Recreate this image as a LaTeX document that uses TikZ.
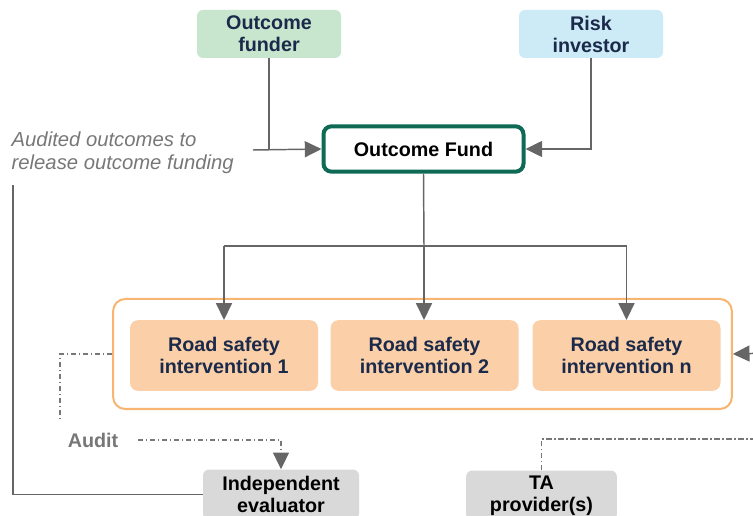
\documentclass[tikz,border=0pt]{standalone}
\usepackage{fontspec}
\setmainfont{Liberation Sans}
\usetikzlibrary{arrows.meta}
\definecolor{navy}{HTML}{1B2A4A}
\definecolor{fgreen}{HTML}{C8E6CE}
\definecolor{fblue}{HTML}{CDEAF7}
\definecolor{dgreen}{HTML}{0E6A55}
\definecolor{peach}{HTML}{FBD0A8}
\definecolor{orangeb}{HTML}{F7B56F}
\definecolor{lgray}{HTML}{D9D9D9}
\definecolor{lineg}{HTML}{666666}
\definecolor{txtg}{HTML}{777777}
\tikzset{
  txt/.style={font=\fontsize{14.8pt}{16.5pt}\selectfont\bfseries, align=center},
  topbox/.style={txt, text=navy, rounded corners=4.5pt, minimum width=108pt, minimum height=36pt, inner sep=0pt},
  rsbox/.style={txt, text=navy, fill=peach, rounded corners=6pt, minimum width=141pt, minimum height=53pt, inner sep=0pt},
  graybox/.style={txt, text=black, fill=lgray, rounded corners=4.5pt, minimum height=37.5pt, inner sep=0pt},
  conn/.style={draw=lineg, line width=1.1pt},
  arr/.style={conn, -{Triangle[length=12.5pt,width=12pt]}},
  dd/.style={draw=txtg, line width=0.8pt, dash pattern=on 4pt off 2pt on 1pt off 2pt},
  ddarr/.style={dd, -{Triangle[length=12.5pt,width=12pt,fill=lineg,color=lineg]}},
}
\begin{document}
\begin{tikzpicture}[x=0.75pt, y=-0.75pt]
\useasboundingbox (0,0) rectangle (753,516);
% top boxes
\node[topbox, fill=fgreen] (funder) at (269,34) {Outcome\\funder};
\node[topbox, fill=fblue] (investor) at (591,34) {Risk\\investor};
\node[txt, text=black, draw=dgreen, line width=3pt, rounded corners=6pt, fill=white,
      minimum width=150pt, minimum height=34pt, inner sep=0pt] (fund) at (423.5,149) {Outcome Fund};
% label
\node[anchor=west, align=left, text=txtg, font=\fontsize{15.2pt}{17pt}\selectfont\itshape] (lbl) at (7,152.5)
  {Audited outcomes to\\release outcome funding};
% container and interventions
\node[draw=orangeb, line width=1.5pt, rounded corners=9pt, fill=white,
      minimum width=464pt, minimum height=82.5pt, inner sep=0pt] (cont) at (422.5,354) {};
\node[rsbox] (r1) at (224,355.5) {Road safety\\intervention 1};
\node[rsbox] (r2) at (424.5,355.5) {Road safety\\intervention 2};
\node[rsbox] (r3) at (626.5,355.5) {Road safety\\intervention n};
% bottom boxes
\node[graybox, minimum width=117pt] (ev) at (281,494.5) {Independent\\evaluator};
\node[graybox, minimum width=113pt] (ta) at (541.5,495.5) {TA\\provider(s)};
\node[txt, text=txtg, inner sep=0pt] (audit) at (93,440) {Audit};
% coordinates
\coordinate (a1) at (13,185);
\coordinate (a2) at (253,150);
\coordinate (j) at (424,246);
\coordinate (rin) at (770,353);
\coordinate (dl) at (60,420);
\coordinate (dr) at (138,440);
\coordinate (tr) at (770,439);
% connectors
\draw[conn] (funder.south) -- (funder.south|-a2);
\draw[arr] (a2) -- (fund.west);
\draw[arr] (investor.south) |- (fund.east);
\draw[conn] (fund.south) -- (j);
\draw[conn] (j) -- (j-|r1.north);
\draw[conn] (j) -- (j-|r3.north);
\draw[arr] (j-|r1.north) -- (r1.north);
\draw[arr] (j) -- (j|-r2.north);
\draw[arr] (j-|r3.north) -- (r3.north);
\draw[conn] (a1) |- (ev.west);
\draw[arr] (rin) -- (cont.east);
\draw[dd] (cont.west) -| (dl);
\draw[ddarr] (dr) -| (ev.north);
\draw[dd] (ta.north) |- (tr);
\end{tikzpicture}
\end{document}
